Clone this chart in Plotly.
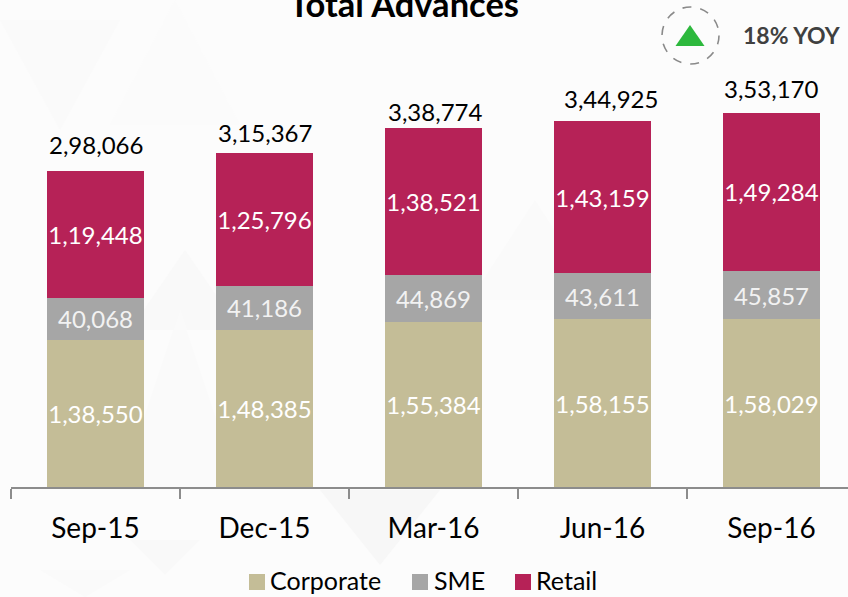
import plotly.graph_objects as go

categories = ["Sep-15", "Dec-15", "Mar-16", "Jun-16", "Sep-16"]
corporate = [138550, 148385, 155384, 158155, 158029]
sme = [40068, 41186, 44869, 43611, 45857]
retail = [119448, 125796, 138521, 143159, 149284]
totals = [298066, 315367, 338774, 344925, 353170]

# manual offsets of the total labels, in pixels
total_dx = [1, 1, 2, 9, 0]
total_dy = [10, 4, 0, 6, 8]

def inr(v):
    s = str(v)
    return s[:-5] + "," + s[-5:-3] + "," + s[-3:] if len(s) > 5 else s[:-3] + "," + s[-3:]

FONT = "Lato, Carlito, Calibri, sans-serif"
W, H = 848, 597
L, B = 11, 110
PW, PH = W - L, H - B
def px(x): return (x - L) / PW
def py(y): return (H - B - y) / PH
def tri(a, b, c, color):
    path = "M " + " L ".join(f"{px(x):.4f},{py(y):.4f}" for x, y in (a, b, c)) + " Z"
    return dict(type="path", xref="paper", yref="paper", path=path, fillcolor=color,
                line=dict(width=0), layer="below")

bg = [
    ((0, 20), (120, 20), (60, 130), "#fafafa"),
    ((110, 125), (240, 125), (175, 0), "#fbfbfb"),
    ((130, 330), (240, 330), (185, 250), "#f9f9f9"),
    ((120, 490), (240, 490), (180, 310), "#fafafa"),
    ((320, 490), (440, 490), (380, 565), "#f7f7f7"),
    ((130, 540), (200, 540), (165, 575), "#f9f9f9"),
    ((40, 570), (130, 570), (85, 597), "#fafafa"),
    ((470, 300), (600, 300), (535, 200), "#fafafa"),
]
shapes = [tri(a, b, c, col) for a, b, c, col in bg]
shapes.append(dict(type="circle", xref="paper", yref="paper", x0=px(662), x1=px(719), y0=py(64), y1=py(7),
                   line=dict(color="#8a8a8a", width=1.6, dash="dash"), fillcolor="rgba(0,0,0,0)"))
shapes.append(dict(type="path", xref="paper", yref="paper",
                   path=f"M {px(675.5)},{py(46)} L {px(704.5)},{py(46)} L {px(690)},{py(25)} Z",
                   fillcolor="#2DB83D", line=dict(width=0)))

fig = go.Figure()
def add(name, vals, color, tcolor):
    fig.add_bar(name=name, x=categories, y=vals, marker=dict(color=color, line=dict(width=0)),
                text=[inr(v) for v in vals], textposition="inside", insidetextanchor="middle",
                textangle=0, constraintext="none",
                textfont=dict(family=FONT, size=24, color=tcolor), cliponaxis=False, showlegend=False)
series = [("Corporate", corporate, "#C4BD97", "#ffffff", 249, 268),
          ("SME", sme, "#A6A6A6", "#f2f2f2", 412, 432),
          ("Retail", retail, "#B62257", "#ffffff", 515, 534)]
annotations = [
    dict(text="<b>Total Advances</b>", xref="paper", yref="paper", x=px(403.5), y=py(3), showarrow=False,
         xanchor="center", yanchor="middle", font=dict(family=FONT, size=34.5, color="#000000")),
    dict(text="<b>18% YOY</b>", xref="paper", yref="paper", x=px(791.5), y=py(35), showarrow=False,
         xanchor="center", yanchor="middle", font=dict(family=FONT, size=23, color="#404040")),
]
for name, vals, color, tcolor, sx, tx in series:
    add(name, vals, color, tcolor)
    shapes.append(dict(type="rect", xref="paper", yref="paper", x0=px(sx), x1=px(sx + 16),
                       y0=py(590), y1=py(574), fillcolor=color, line=dict(width=0)))
    annotations.append(dict(text=name, xref="paper", yref="paper", x=px(tx), y=py(580), showarrow=False,
                            xanchor="left", yanchor="middle",
                            font=dict(family=FONT, size=25, color="#000000")))
for c, t, dx, dy in zip(categories, totals, total_dx, total_dy):
    annotations.append(dict(text=inr(t), x=c, y=t, xref="x", yref="y", showarrow=False, xanchor="center",
                            yanchor="bottom", xshift=dx, yshift=dy,
                            font=dict(family=FONT, size=24, color="#000000")))

fig.update_layout(
    width=W, height=H, barmode="stack", bargap=0.426,
    margin=dict(l=L, r=0, t=0, b=B, pad=0),
    paper_bgcolor="#fcfcfc", plot_bgcolor="rgba(0,0,0,0)",
    shapes=shapes, showlegend=False, annotations=annotations,
    xaxis=dict(type="category", range=[-0.5, 4.453], tickson="boundaries", ticks="outside", ticklen=10,
               tickcolor="#8c8c8c", tickwidth=2, showline=True, linecolor="#8c8c8c", linewidth=2,
               showgrid=False, zeroline=False, tickfont=dict(family=FONT, size=28, color="#000000"),
               ticklabelstandoff=15, automargin=False),
    yaxis=dict(range=[0, 459434], visible=False, showgrid=False, zeroline=False, automargin=False),
)
fig.write_html("out.html", config={"displayModeBar": False},
               post_script="document.body.style.margin='0';document.body.style.overflow='hidden';")
